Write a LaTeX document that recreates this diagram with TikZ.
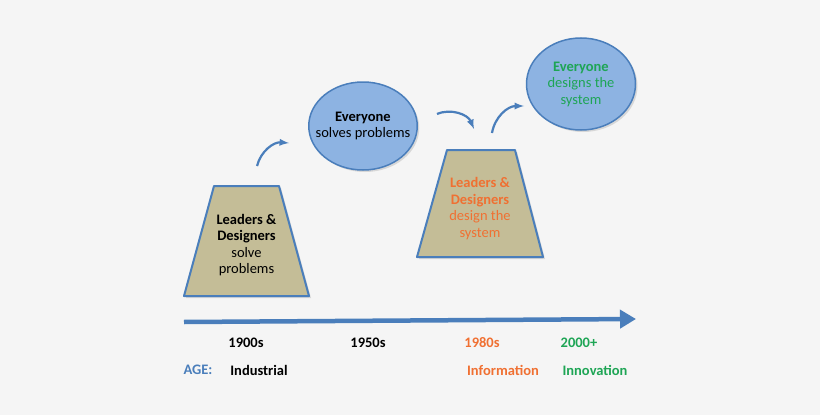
\documentclass[tikz,border=0pt]{standalone}
\usepackage{fontspec}
\setmainfont{Carlito}
\usetikzlibrary{arrows,arrows.meta}
\usetikzlibrary{positioning}
\usetikzlibrary{shapes,shadows}

\definecolor{edgeblue}{RGB}{74,126,187}
\definecolor{khaki}{RGB}{196,189,151}
\definecolor{skyblue}{RGB}{141,179,226}
\definecolor{eraorange}{RGB}{240,112,50}
\definecolor{eragreen}{RGB}{30,165,85}
\definecolor{paper}{RGB}{245,245,245}

\tikzset{
  stage/.style={draw=edgeblue, line width=2pt, fill=khaki, line join=round,
    drop shadow={opacity=0.25, shadow xshift=2pt, shadow yshift=-2pt}},
  stagetext/.style={align=center, inner sep=0pt, font=\fontsize{14.5}{16.5}\selectfont},
  bubble/.style={draw=edgeblue, line width=1.5pt, fill=skyblue, ellipse,
    minimum width=108pt, minimum height=88pt, inner xsep=-9pt, inner ysep=0pt, align=center,
    font=\fontsize{14.5}{16.5}\selectfont,
    drop shadow={opacity=0.25, shadow xshift=2pt, shadow yshift=-2pt}},
  hop/.style={-latex, draw=edgeblue, line width=2.2pt},
  era/.style={font=\bfseries\fontsize{14.5}{16}\selectfont}
}

\begin{document}
\begin{tikzpicture}[x=1pt, y=1pt]
  \fill[paper] (0,0) rectangle (820,-415);
  \useasboundingbox (0,0) rectangle (820,-415);

  % stages
  \draw[stage] (214,-186) -- (279,-186) -- (309,-296) -- (184,-296) -- cycle;
  \node[stagetext] (lead1) at (246.5,-245) {\textbf{Leaders \&}\\\textbf{Designers}\\solve\\problems};
  \node[bubble] (every1) at (363,-126) {\textbf{Everyone}\\solves problems};
  \draw[stage] (447,-150) -- (515,-150) -- (543,-257) -- (417,-257) -- cycle;
  \node[stagetext, text=eraorange] (lead2) at (480,-208.5)
    {\textbf{Leaders \&}\\\textbf{Designers}\\design the\\system};
  \node[bubble, minimum width=109pt, minimum height=92pt, inner xsep=0pt, text=eragreen] (every2) at (581,-84)
    {\textbf{Everyone}\\designs the\\system};

  % hops between stages
  \coordinate (h1s) at (257,-166);
  \coordinate (h1e) at (289,-143);
  \coordinate (h2s) at (437,-114);
  \coordinate (h2e) at (474,-129);
  \coordinate (h3s) at (492,-133);
  \coordinate (h3e) at (524,-106);
  \draw[hop] (h1s) to[bend left=40] (h1e);
  \draw[hop] (h2s) to[bend left=45] (h2e);
  \draw[hop] (h3s) to[bend left=40] (h3e);

  % timeline
  \coordinate (tl0) at (184,-322);
  \coordinate (tl1) at (636,-319);
  \draw[edgeblue, line width=4.5pt, -{Triangle[length=16pt, width=18pt]}] (tl0) -- (tl1);

  \node[era] (y1900) at (246,-343) {1900s};
  \node[era] (y1950) at (368,-343) {1950s};
  \node[era, text=eraorange] (y1980) at (482,-343) {1980s};
  \node[era, text=eragreen] (y2000) at (579,-343) {2000+};

  \node[era, text=edgeblue] (age) at (198,-370) {AGE:};
  \node[era] (industrial) at (259,-370) {Industrial};
  \node[era, text=eraorange] (information) at (503,-370) {Information};
  \node[era, text=eragreen] (innovation) at (595,-370) {Innovation};
\end{tikzpicture}
\end{document}
